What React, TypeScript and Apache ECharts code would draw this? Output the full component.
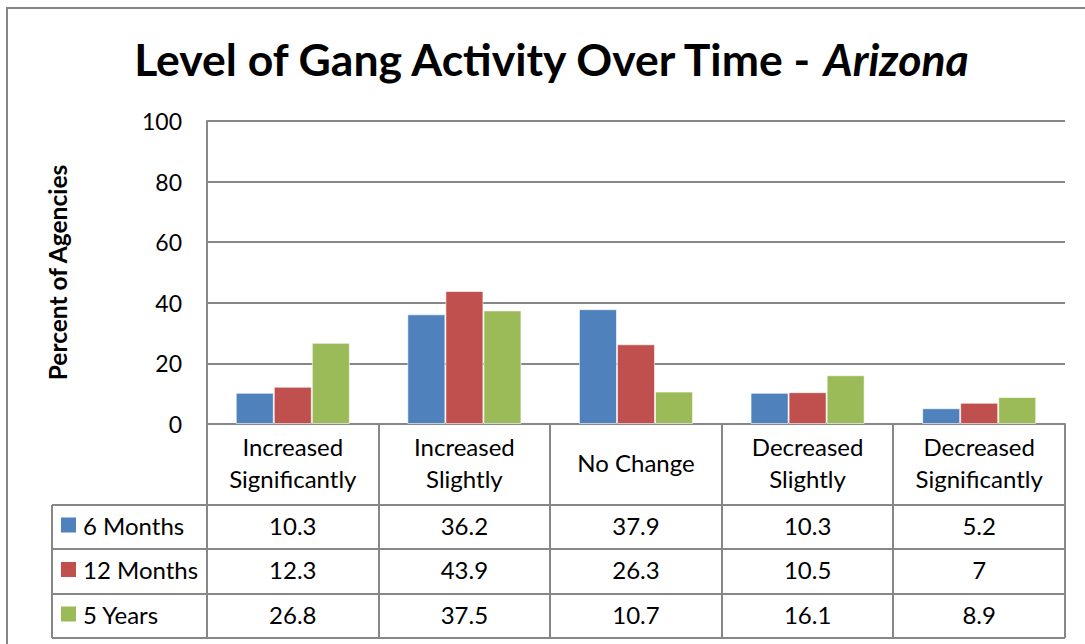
import React, { useEffect, useRef } from "react";
import * as echarts from "echarts";

const categories = [
  "Increased\nSignificantly",
  "Increased\nSlightly",
  "No Change",
  "Decreased\nSlightly",
  "Decreased\nSignificantly",
];
const seriesNames = ["6 Months", "12 Months", "5 Years"];
const sixMonths = [10.3, 36.2, 37.9, 10.3, 5.2];
const twelveMonths = [12.3, 43.9, 26.3, 10.5, 7];
const fiveYears = [26.8, 37.5, 10.7, 16.1, 8.9];
const seriesColors = ["#4F81BD", "#C0504D", "#9BBB59"];
const yMin = 0;
const yMax = 100;
const yInterval = 20;

const FONT = "Lato";
const W = 1085;
const H = 644;
const L = 207;
const R = 1065;
const T = 121;
const B = 424;
const rowLines = [505, 549, 594, 638];
const legendLeft = 52;
const lineColor = "#878787";

export default function App() {
  const ref = useRef<HTMLDivElement>(null);
  useEffect(() => {
    document.body.style.margin = "0";
    const chart = echarts.init(ref.current!, null, { renderer: "svg" });
    const allData = [sixMonths, twelveMonths, fiveYears];
    const colW = (R - L) / categories.length;
    const graphic: any[] = [];
    graphic.push({
      type: "rect",
      shape: { x: 7, y: 8, width: 1200, height: 800 },
      style: { fill: "none", stroke: "#868686", lineWidth: 2 },
      silent: true,
    });
    for (let i = 0; i <= categories.length; i++) {
      const x = Math.round(L + colW * i);
      graphic.push({
        type: "line",
        shape: { x1: x, y1: B, x2: x, y2: rowLines[rowLines.length - 1] },
        style: { stroke: lineColor, lineWidth: 2 },
      });
    }
    rowLines.forEach((y) => {
      graphic.push({
        type: "line",
        shape: { x1: legendLeft, y1: y, x2: R, y2: y },
        style: { stroke: lineColor, lineWidth: 2 },
      });
    });
    graphic.push({
      type: "line",
      shape: { x1: legendLeft, y1: rowLines[0], x2: legendLeft, y2: rowLines[rowLines.length - 1] },
      style: { stroke: lineColor, lineWidth: 2 },
    });
    seriesNames.forEach((name, r) => {
      const cy = (rowLines[r] + rowLines[r + 1]) / 2 - 2;
      graphic.push({
        type: "rect",
        shape: { x: 61, y: cy - 7.5, width: 15, height: 15 },
        style: { fill: seriesColors[r] },
      });
      graphic.push({
        type: "text",
        x: 83,
        y: cy,
        style: {
          text: name,
          font: `24px ${FONT}`,
          fill: "#000",
          textAlign: "left",
          textVerticalAlign: "middle",
        },
      });
      allData[r].forEach((v, c) => {
        graphic.push({
          type: "text",
          x: L + colW * (c + 0.5),
          y: cy,
          style: {
            text: String(v),
            font: `24px ${FONT}`,
            fill: "#000",
            textAlign: "center",
            textVerticalAlign: "middle",
          },
        });
      });
    });

    chart.setOption({
      animation: false,
      backgroundColor: "#fff",
      title: {
        text: "{b|Level of Gang Activity Over Time - }{i|Arizona}",
        left: 545,
        top: 31,
        textAlign: "center",
        textStyle: {
          rich: {
            b: { fontFamily: FONT, fontWeight: "bold", fontSize: 44.5, color: "#000" },
            i: { fontFamily: FONT, fontWeight: "bold", fontStyle: "italic", fontSize: 44.5, color: "#000" },
          },
        },
      },
      grid: { left: L, right: W - R, top: T, bottom: H - B, containLabel: false },
      xAxis: {
        type: "category",
        data: categories,
        axisLine: { show: true, lineStyle: { color: lineColor, width: 2 } },
        axisTick: { show: false },
        axisLabel: {
          interval: 0,
          margin: 38,
          verticalAlign: "middle",
          fontFamily: FONT,
          fontSize: 24,
          lineHeight: 32,
          color: "#000",
        },
      },
      yAxis: {
        type: "value",
        min: yMin,
        max: yMax,
        interval: yInterval,
        name: "Percent of Agencies",
        nameLocation: "middle",
        nameGap: 137,
        nameRotate: 90,
        nameTextStyle: { fontFamily: FONT, fontWeight: "bold", fontSize: 24.5, color: "#000" },
        axisLine: { show: true, lineStyle: { color: lineColor, width: 2 } },
        axisTick: { show: false },
        axisLabel: { margin: 25, fontFamily: FONT, fontSize: 23, color: "#000" },
        splitLine: { lineStyle: { color: lineColor, width: 2 } },
      },
      series: allData.map((d, i) => ({
        type: "bar",
        name: seriesNames[i],
        data: d,
        barGap: "0%",
        barCategoryGap: "33.5%",
        itemStyle: { color: seriesColors[i], borderColor: "rgba(255,255,255,0.6)", borderWidth: 1 },
      })),
      graphic,
    });
    return () => chart.dispose();
  }, []);
  return <div ref={ref} style={{ width: W, height: H }} />;
}
